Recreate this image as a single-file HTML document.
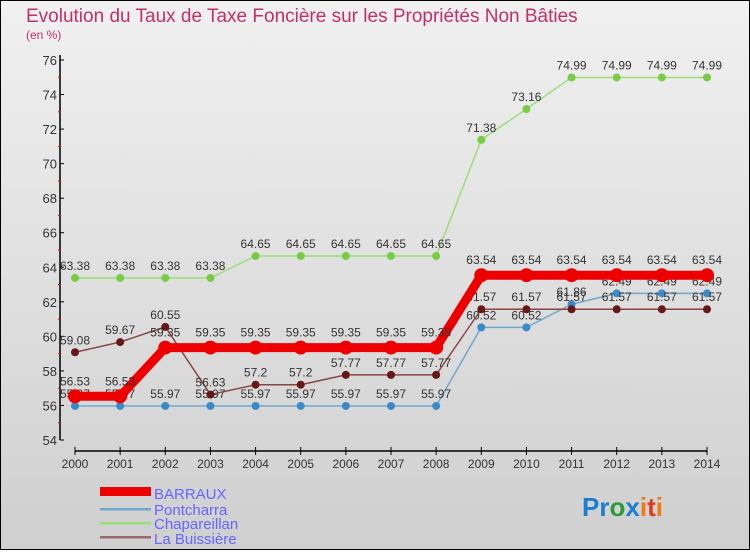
<!DOCTYPE html>
<html><head><meta charset="utf-8"><style>
body{margin:0;width:750px;height:550px;overflow:hidden;font-family:"Liberation Sans",sans-serif}
svg text{font-family:"Liberation Sans",sans-serif}
</style></head><body>
<svg id="c" width="750" height="550" xmlns="http://www.w3.org/2000/svg">
<defs><linearGradient id="bg" x1="0" y1="0" x2="0" y2="1"><stop offset="0" stop-color="#f0f0f0"/><stop offset="1" stop-color="#cfcfcf"/></linearGradient></defs>
<rect x="0.5" y="0.5" width="749" height="549" fill="url(#bg)" stroke="#000"/>
<text x="26" y="22" font-size="19" fill="#c0306a">Evolution du Taux de Taxe Foncière sur les Propriétés Non Bâties</text>
<text x="26" y="39" font-size="12" fill="#c0306a">(en %)</text>
<g id="axes"></g><g id="series"></g>
<g>
<rect x="100" y="487" width="51" height="9" fill="#e00"/>
<text x="154" y="499" font-size="15" fill="#6666ff">BARRAUX</text>
<rect x="100" y="508" width="51" height="2.5" fill="#6fa7cf"/>
<text x="154" y="515" font-size="15" fill="#6666ff">Pontcharra</text>
<rect x="100" y="522" width="51" height="2.5" fill="#99dd77"/>
<text x="154" y="529" font-size="15" fill="#6666ff">Chapareillan</text>
<rect x="100" y="536" width="51" height="2.5" fill="#996666"/>
<text x="154" y="544" font-size="15" fill="#6666ff">La Buissière</text>
</g>
<text x="582" y="516" font-size="26" font-weight="bold"><tspan fill="#1a7fd0">Pr</tspan><tspan fill="#2a9a3a">o</tspan><tspan fill="#1a7fd0">x</tspan><tspan fill="#f07a10">i</tspan><tspan fill="#e03a20">t</tspan><tspan fill="#f07a10">i</tspan></text>
</svg>
<script>
const years=[2000,2001,2002,2003,2004,2005,2006,2007,2008,2009,2010,2011,2012,2013,2014];
const yTicks=[54,56,58,60,62,64,66,68,70,72,74,76];
const barraux=[56.53,56.53,59.35,59.35,59.35,59.35,59.35,59.35,59.35,63.54,63.54,63.54,63.54,63.54,63.54];
const pontcharra=[55.97,55.97,55.97,55.97,55.97,55.97,55.97,55.97,55.97,60.52,60.52,61.86,62.49,62.49,62.49];
const chapareillan=[63.38,63.38,63.38,63.38,64.65,64.65,64.65,64.65,64.65,71.38,73.16,74.99,74.99,74.99,74.99];
const buissiere=[59.08,59.67,60.55,56.63,57.2,57.2,57.77,57.77,57.77,61.57,61.57,61.57,61.57,61.57,61.57];
const NS="http://www.w3.org/2000/svg";
const X0=75,X1=707,Y0=440,Y1=60,YMIN=54,YMAX=76;
const xs=i=>X0+(X1-X0)*i/(years.length-1);
const ys=v=>Y0-(v-YMIN)/(YMAX-YMIN)*(Y0-Y1);
function mk(t,a,p){const e=document.createElementNS(NS,t);for(const k in a)e.setAttribute(k,a[k]);p.appendChild(e);return e;}
const ax=document.getElementById('axes');
let yl=mk('line',{x1:60,y1:Y1-5,x2:60,y2:Y0,stroke:'#000','stroke-width':1.5},ax);


let xl=mk('line',{x1:X0,y1:451,x2:X1,y2:451,stroke:'#000','stroke-width':1.5},ax);


yTicks.forEach((v,i)=>{const y=ys(v);
mk('line',{x1:60,y1:y,x2:64,y2:y,stroke:'#000'},ax);
if(i<yTicks.length-1)mk('line',{x1:58,y1:ys(v+1),x2:61,y2:ys(v+1),stroke:'#e00'},ax);
const t=mk('text',{x:57,y:y+5,'font-size':13,'text-anchor':'end',fill:'#333'},ax);t.textContent=v;

});
years.forEach((yr,i)=>{const x=xs(i);
mk('line',{x1:x,y1:447,x2:x,y2:455,stroke:'#000'},ax);
const t=mk('text',{x:x,y:468,'font-size':12,'text-anchor':'middle',fill:'#333'},ax);t.textContent=yr;

});
const sg=document.getElementById('series');
function series(data,name,col,w,r,dot,lblOff){
const g=mk('g',{},sg);


mk('polyline',{points:data.map((v,i)=>xs(i)+','+ys(v)).join(' '),fill:'none',stroke:col,'stroke-width':w,'stroke-linejoin':'round'},g);
data.forEach((v,i)=>{const c=mk('circle',{cx:xs(i),cy:ys(v),r:r,fill:dot},g);


const t=mk('text',{x:xs(i),y:ys(v)-lblOff,'font-size':12,'text-anchor':'middle',fill:'#333'},g);t.textContent=v;

});}
series(chapareillan,'chapareillan','#99dd77',1.5,4,'#77cc44',8);
series(pontcharra,'pontcharra','#6fa7cf',1.5,4,'#3a8ac8',8);
series(buissiere,'la-buissiere','#884444',1.5,4,'#661818',8);
series(barraux,'barraux','#ee0000',9,7,'#ee0000',11);
</script>
</body></html>
